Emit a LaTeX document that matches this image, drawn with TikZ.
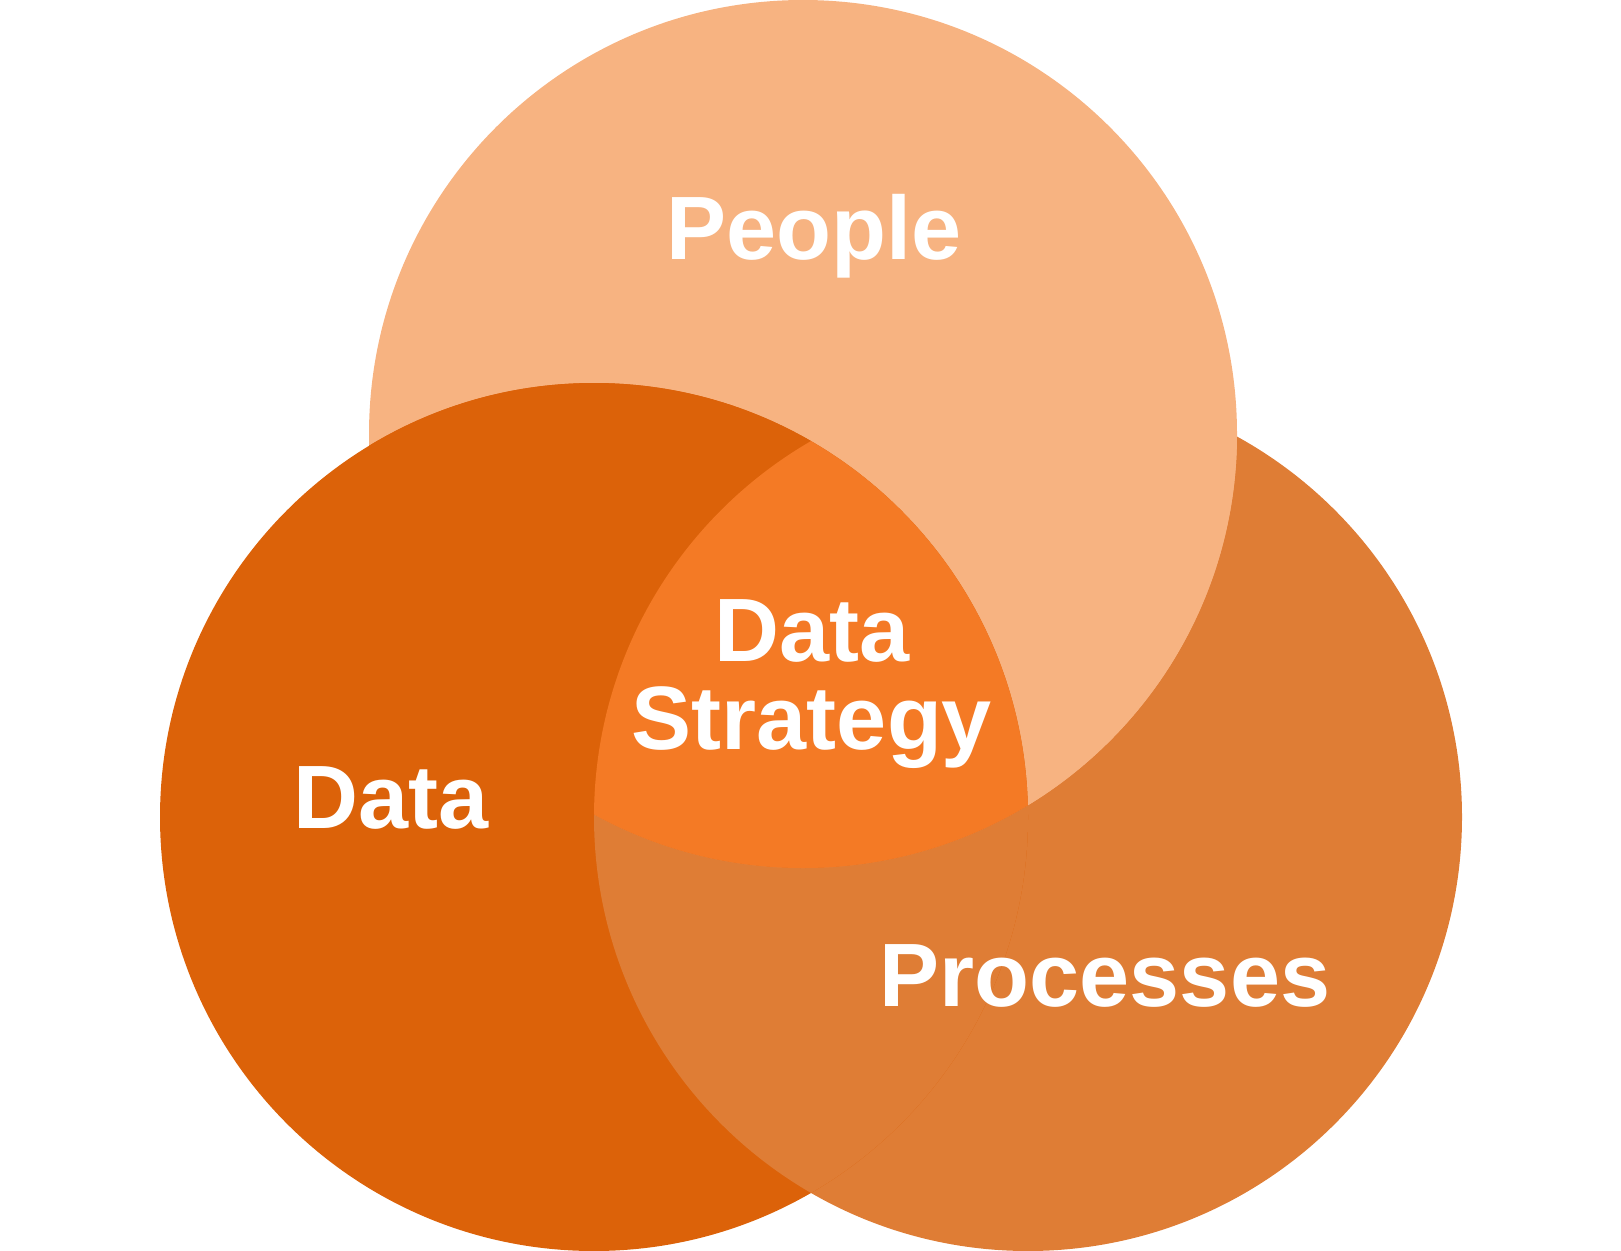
\documentclass[tikz,border=0pt]{standalone}
\usepackage{fontspec}
\setmainfont{Liberation Sans}
\begin{document}
\begin{tikzpicture}[x=1pt,y=-1pt,
  lbl/.style={text=white,font=\fontsize{90}{100}\selectfont\bfseries,align=center,inner sep=0pt}]
\definecolor{cpeople}{HTML}{F7B381}
\definecolor{cdata}{HTML}{DC6209}
\definecolor{cproc}{HTML}{DF7D35}
\definecolor{ccent}{HTML}{F47A25}
\useasboundingbox (0,0) rectangle (1621,1250);
\def\R{434}
\coordinate (P) at (803,434);
\coordinate (D) at (594,817);
\coordinate (Q) at (1028,817);
\fill[cproc] (Q) circle (\R);
\fill[cpeople] (P) circle (\R);
\fill[cdata] (D) circle (\R);
\begin{scope}\clip (D) circle (\R); \fill[cproc] (Q) circle (\R);\end{scope}
\begin{scope}\clip (Q) circle (\R); \fill[cpeople] (P) circle (\R);\end{scope}
\begin{scope}\clip (P) circle (\R); \fill[cdata] (D) circle (\R);\end{scope}
\begin{scope}\clip (P) circle (\R); \clip (Q) circle (\R); \fill[ccent] (D) circle (\R);\end{scope}
\node[lbl] (people) at (814,236) {People};
\node[lbl] (data) at (391,798) {Data};
\node[lbl] (proc) at (1105,976) {Processes};
\node[lbl] (ds) at (812,684) {Data\\[-12pt]Strategy};
\end{tikzpicture}
\end{document}
